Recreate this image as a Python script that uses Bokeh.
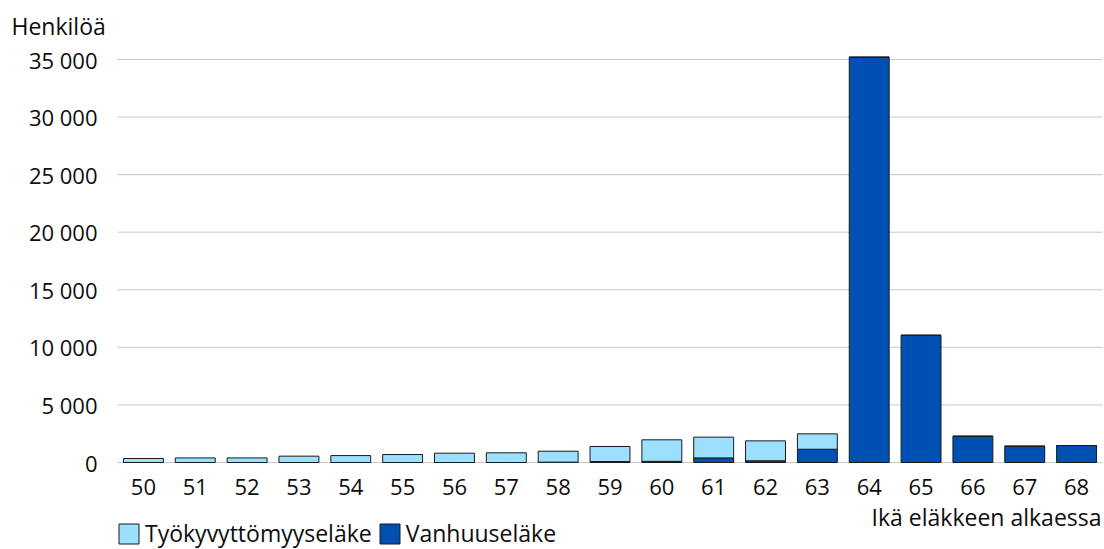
from bokeh.plotting import figure
from bokeh.models import (ColumnDataSource, Legend, LegendItem, Label, FixedTicker,
                          Range1d, LinearAxis)
from bokeh.embed import file_html
from bokeh.resources import INLINE

ages = [50, 51, 52, 53, 54, 55, 56, 57, 58, 59, 60, 61, 62, 63, 64, 65, 66, 67, 68]
vanhuus = [0, 0, 0, 0, 0, 0, 0, 0, 30, 80, 100, 400, 150, 1150, 35200, 11050, 2280, 1415, 1475]
tyokyvyt = [350, 400, 400, 550, 600, 690, 810, 840, 950, 1310, 1870, 1800, 1730, 1340, 0, 0, 0, 0, 0]
series = ["Vanhuuseläke", "Työkyvyttömyyseläke"]
colors = ["#0050B4", "#9DDFFF"]
y_ticks = [0, 5000, 10000, 15000, 20000, 25000, 30000, 35000]
y_tick_labels = ["0", "5 000", "10 000", "15 000", "20 000", "25 000", "30 000", "35 000"]
y_title = "Henkilöä"
x_title = "Ikä eläkkeen alkaessa"
TXT = "#0d0d0d"

# layout (pixels): the plotting frame covers the whole canvas; the ranges are
# chosen so that the chart area lies at LEFT..RIGHT, TOP..ZERO
W, H = 1104, 549
LEFT, RIGHT, TOP, ZERO = 117, 1102, 59, 462
x0, x1 = ages[0] - 0.5, ages[-1] + 0.5
ppx = (RIGHT - LEFT) / (x1 - x0)
ppy = (ZERO - TOP) / y_ticks[-1]

src = ColumnDataSource(dict(age=ages, **{"Vanhuuseläke": vanhuus, "Työkyvyttömyyseläke": tyokyvyt}))
grid_src = ColumnDataSource(dict(y=y_ticks, xs=[x0] * len(y_ticks), xe=[x1] * len(y_ticks)))

p = figure(width=W, height=H, output_backend="svg", toolbar_location=None,
           x_axis_location=None, y_axis_location=None,
           x_range=Range1d(x0 - LEFT / ppx, x1 + (W - RIGHT) / ppx),
           y_range=Range1d(-(H - ZERO) / ppy, y_ticks[-1] + TOP / ppy),
           min_border_left=0, min_border_right=0, min_border_top=0, min_border_bottom=0)
p.outline_line_color = None
p.background_fill_color = "white"
p.xgrid.grid_line_color = None
p.ygrid.grid_line_color = None

# horizontal gridlines over the chart area only
p.segment(x0="xs", y0="y", x1="xe", y1="y", source=grid_src, line_color="#C8C8C8", line_width=1)

rs = p.vbar_stack(series, x="age", width=0.77, source=src, color=colors,
                  line_color="#1a1a1a", line_width=1)

# x axis fixed at y = 0
xaxis = LinearAxis(ticker=FixedTicker(ticks=ages), fixed_location=0)
xaxis.axis_line_color = None
xaxis.major_tick_line_color = None
xaxis.minor_tick_line_color = None
xaxis.major_label_standoff = 10
xaxis.major_label_text_font = "Open Sans"
xaxis.major_label_text_font_size = "22px"
xaxis.major_label_text_color = TXT
p.add_layout(xaxis, "below")

# y axis fixed at the left edge of the chart area
yaxis = LinearAxis(ticker=FixedTicker(ticks=y_ticks), fixed_location=x0)
yaxis.major_label_overrides = {t: l for t, l in zip(y_ticks, y_tick_labels)}
yaxis.axis_line_color = None
yaxis.major_tick_line_color = None
yaxis.minor_tick_line_color = None
yaxis.major_label_standoff = 14
yaxis.major_label_text_font = "Open Sans"
yaxis.major_label_text_font_size = "22px"
yaxis.major_label_text_color = TXT
p.add_layout(yaxis, "left")

p.add_layout(Label(x=11, y=H - 33 + 8, x_units="screen", y_units="screen", text=y_title,
                   text_font="Open Sans", text_font_size="23px", text_color=TXT,
                   text_baseline="alphabetic", text_align="left"))
p.add_layout(Label(x=1101, y=33, x_units="screen", y_units="screen", text=x_title,
                   text_font="Open Sans", text_font_size="23px", text_color=TXT,
                   text_baseline="alphabetic", text_align="right"))

legend = Legend(items=[LegendItem(label=series[1], renderers=[rs[1]]),
                       LegendItem(label=series[0], renderers=[rs[0]])],
                orientation="horizontal", location=(116, 0),
                glyph_width=25, glyph_height=25, label_standoff=4, spacing=5,
                padding=0, margin=0, border_line_color=None, background_fill_alpha=0,
                label_text_font="Open Sans", label_text_font_size="23px",
                label_text_color=TXT, label_height=25)
p.add_layout(legend, "center")

open("out.html", "w").write(file_html(p, INLINE))
